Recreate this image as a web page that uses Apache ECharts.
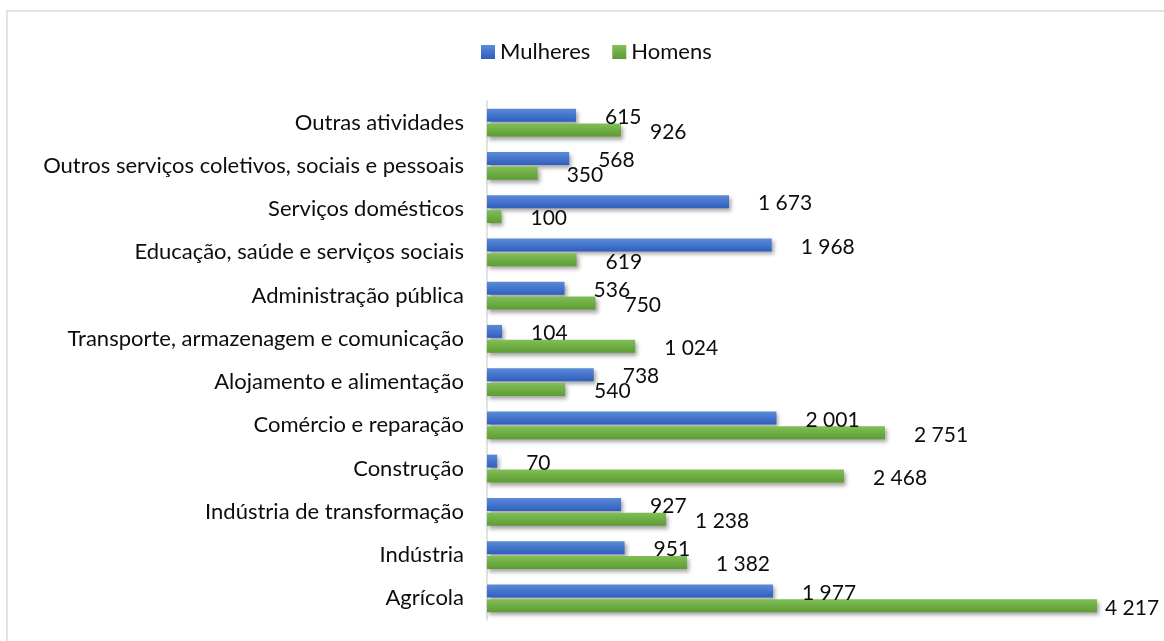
<!DOCTYPE html>
<html>
<head>
<meta charset="utf-8">
<script src="https://cdn.jsdelivr.net/npm/echarts@6/dist/echarts.min.js"></script>
<style>
  html, body { margin: 0; padding: 0; background: #fff; }
  #chart { width: 1164px; height: 641px; }
</style>
</head>
<body>
<div id="chart"></div>
<script>
// categorias, de cima para baixo
const categorias = [
  'Outras atividades',
  'Outros serviços coletivos, sociais e pessoais',
  'Serviços domésticos',
  'Educação, saúde e serviços sociais',
  'Administração pública',
  'Transporte, armazenagem e comunicação',
  'Alojamento e alimentação',
  'Comércio e reparação',
  'Construção',
  'Indústria de transformação',
  'Indústria',
  'Agrícola'
]
const mulheres = [615, 568, 1673, 1968, 536, 104, 738, 2001, 70, 927, 951, 1977]
const homens = [926, 350, 100, 619, 750, 1024, 540, 2751, 2468, 1238, 1382, 4217]

const fonte = 'Lato'

// formato "4 217"
function fmt(v) {
  return String(v).replace(/\B(?=(\d{3})+(?!\d))/g, ' ')
}

function barStyle(top, bottom) {
  return {
    color: new echarts.graphic.LinearGradient(0, 0, 0, 1, [
      { offset: 0, color: top },
      { offset: 1, color: bottom },
    ]),
    shadowBlur: 4,
    shadowOffsetX: 2,
    shadowOffsetY: 3,
    shadowColor: 'rgba(0,0,0,0.35)',
  }
}

const labelBase = {
  show: true,
  position: 'right',
  distance: 29,
  offset: [0, 2],
  color: '#0d0d0d',
  fontFamily: fonte,
  fontSize: 21,
  formatter: (p) => fmt(p.value),
}

const chart = echarts.init(document.getElementById('chart'))
chart.setOption({
  animation: false,
  textStyle: { fontFamily: fonte },
  graphic: [
    {
      type: 'rect',
      shape: { x: 7, y: 11, width: 1200, height: 700 },
      style: { fill: 'none', stroke: '#d9d9d9', lineWidth: 1.5 },
      silent: true,
    },
  ],
  legend: {
    data: ['Mulheres', 'Homens'],
    left: 476,
    top: 36,
    itemWidth: 14,
    itemHeight: 14,
    itemGap: 22,
    icon: 'rect',
    textStyle: { fontFamily: fonte, fontSize: 22, color: '#0d0d0d', padding: [0, 0, 0, 0] },
  },
  grid: {
    left: 487,
    right: 26,
    top: 101,
    bottom: 21,
    containLabel: false,
  },
  xAxis: {
    type: 'value',
    min: 0,
    max: 4500,
    axisLine: { show: false },
    axisTick: { show: false },
    axisLabel: { show: false },
    splitLine: { show: false },
  },
  yAxis: {
    type: 'category',
    inverse: true,
    data: categorias,
    axisLine: { show: true, lineStyle: { color: '#d9d9d9', width: 1.5 } },
    axisTick: { show: false },
    axisLabel: {
      margin: 23,
      color: '#0d0d0d',
      fontFamily: fonte,
      fontSize: 22,
    },
  },
  series: [
    {
      name: 'Mulheres',
      type: 'bar',
      data: mulheres,
      barWidth: 13,
      barGap: '15%',
      itemStyle: barStyle('#5b8bd9', '#2f5fbd'),
      label: labelBase,
    },
    {
      name: 'Homens',
      type: 'bar',
      // o rótulo de 4 217 fica encostado à barra
      data: homens.map((v) => (v === 4217 ? { value: v, label: { distance: 8 } } : v)),
      barWidth: 13,
      barGap: '15%',
      itemStyle: barStyle('#7fbf55', '#5c9c33'),
      label: labelBase,
    },
  ],
})
</script>
</body>
</html>
